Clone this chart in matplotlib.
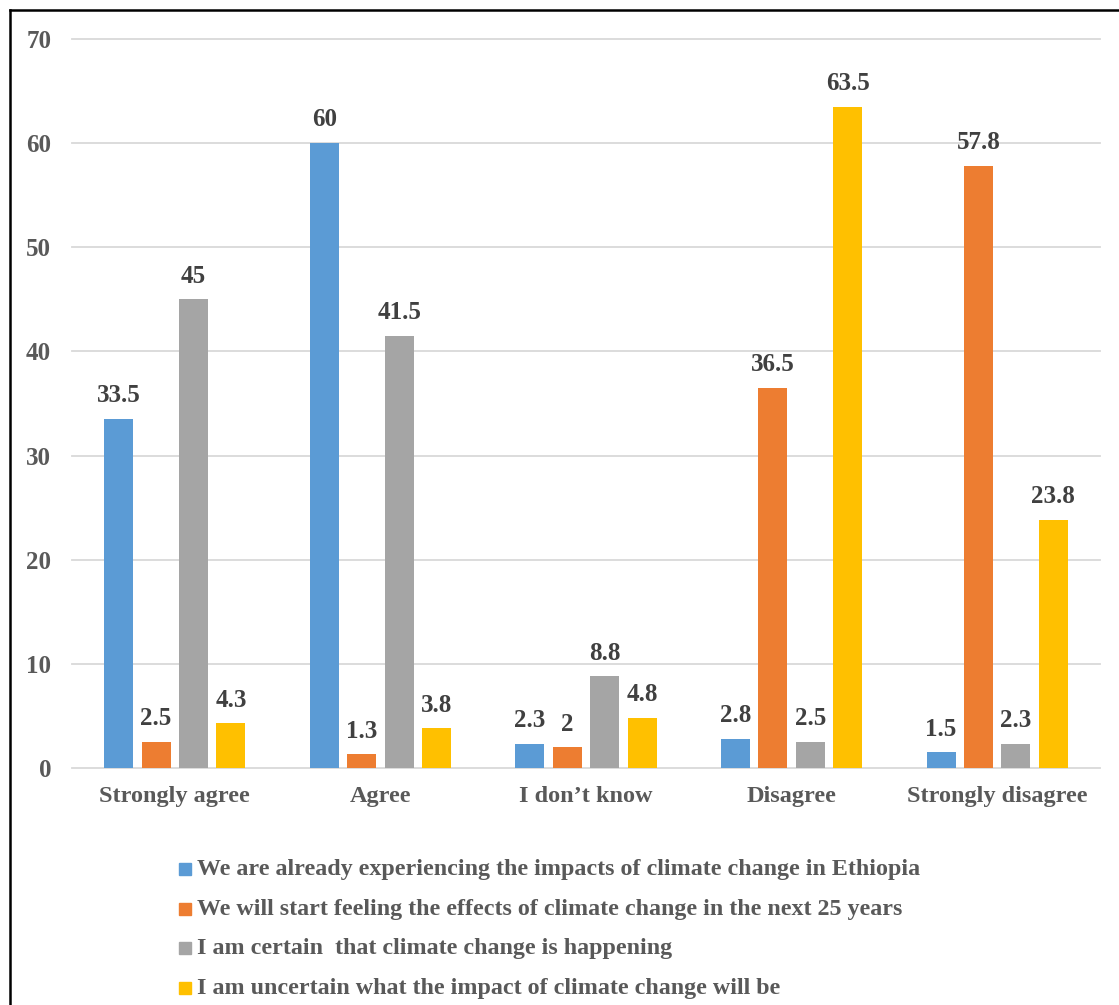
import matplotlib
matplotlib.use("Agg")
import matplotlib.pyplot as plt
from matplotlib.lines import Line2D
from matplotlib.patches import Rectangle
import numpy as np

categories = ["Strongly agree", "Agree", "I don\u2019t know", "Disagree", "Strongly disagree"]
series_names = [
    "We are already experiencing the impacts of climate change in Ethiopia",
    "We will start feeling the effects of climate change in the next 25 years",
    "I am certain  that climate change is happening",
    "I am uncertain what the impact of climate change will be",
]
experiencing_now = [33.5, 60, 2.3, 2.8, 1.5]
feeling_in_25_years = [2.5, 1.3, 2, 36.5, 57.8]
certain_happening = [45, 41.5, 8.8, 2.5, 2.3]
uncertain_impact = [4.3, 3.8, 4.8, 63.5, 23.8]
y_ticks = [0, 10, 20, 30, 40, 50, 60, 70]

series_values = [experiencing_now, feeling_in_25_years, certain_happening, uncertain_impact]
colors = ["#5B9BD5", "#ED7D31", "#A5A5A5", "#FFC000"]

plt.rcParams["font.family"] = ["Liberation Serif", "DejaVu Serif"]
plt.rcParams["font.weight"] = "bold"

W, H = 1119, 1005
fig = plt.figure(figsize=(W / 100, H / 100), dpi=100)
ax = fig.add_axes([72 / W, 1 - 768 / H, (1100 - 72) / W, (768 - 39) / H])

x = np.arange(len(categories))
pitch = 0.182
width = 0.141
for i, (vals, col) in enumerate(zip(series_values, colors)):
    offs = (i - 1.5) * pitch
    bars = ax.bar(x + offs, vals, width=width, color=col, zorder=3)
    for b, v in zip(bars, vals):
        ax.annotate(f"{v:g}", (b.get_x() + b.get_width() / 2, v),
                    xytext=(0, 12), textcoords="offset points",
                    ha="center", va="baseline", fontsize=18,
                    fontweight="bold", color="#404040")

ax.set_xlim(-0.5, len(categories) - 0.5)
ax.set_ylim(0, 70)
ax.set_yticks(y_ticks)
ax.set_yticklabels([str(t) for t in y_ticks])
ax.set_xticks(x)
ax.set_xticklabels(categories)
ax.tick_params(axis="y", length=0, pad=15, labelsize=18, labelcolor="#595959")
ax.tick_params(axis="x", length=0, pad=13, labelsize=17.5, labelcolor="#595959")
for s in ax.spines.values():
    s.set_visible(False)
ax.yaxis.grid(True, color="#D9D9D9", linewidth=1.3, zorder=0)
ax.set_axisbelow(True)
for gl in ax.get_ygridlines():
    gl.set_clip_on(False)

# legend, stacked below the plot
leg_x = 179
leg_y = [869, 909, 948, 988]
sq = 12
for name, col, yy in zip(series_names, colors, leg_y):
    fig.patches.append(Rectangle((leg_x / W, 1 - (yy + sq / 2) / H), sq / W, sq / H,
                                 transform=fig.transFigure, color=col))
    fig.text((leg_x + 18) / W, 1 - yy / H, name, ha="left", va="center",
             fontsize=17.3, fontweight="bold", color="#595959")

# outer frame (top and left edges)
fig.add_artist(Line2D([10 / W, 10 / W], [0, 1 - 10 / H], transform=fig.transFigure,
                      color="black", linewidth=1.8))
fig.add_artist(Line2D([10 / W, 1], [1 - 10 / H, 1 - 10 / H], transform=fig.transFigure,
                      color="black", linewidth=1.8))

fig.savefig("out.png", dpi=100, facecolor="white")
